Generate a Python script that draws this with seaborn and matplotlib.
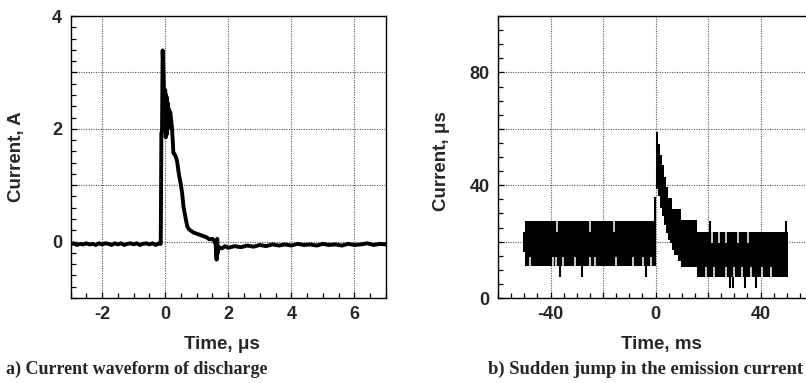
import numpy as np
import pandas as pd
import matplotlib
matplotlib.use('Agg')
import matplotlib.pyplot as plt
import seaborn as sns
from matplotlib.ticker import MultipleLocator, FixedLocator, FixedFormatter

# panel a: discharge current waveform (time in us, current in A)
t_a = [-3.0, -2.9, -2.8, -2.7, -2.6, -2.5, -2.4, -2.3, -2.2, -2.1, -2.0, -1.9, -1.8, -1.7,
       -1.6, -1.5, -1.4, -1.3, -1.2, -1.1, -1.0, -0.9, -0.8, -0.7, -0.6, -0.5, -0.4, -0.3,
       -0.2, -0.14, -0.12, -0.1, -0.08, -0.06, -0.04, -0.02, 0.0, 0.02, 0.03, 0.05, 0.06,
       0.08, 0.09, 0.11, 0.12, 0.14, 0.16, 0.18, 0.21, 0.24, 0.26, 0.3, 0.34, 0.38, 0.42,
       0.46, 0.5, 0.54, 0.58, 0.62, 0.66, 0.7, 0.75, 0.8, 0.9, 1.0, 1.1, 1.2, 1.3, 1.4,
       1.5, 1.56, 1.6, 1.63, 1.65, 1.67, 1.7, 1.8, 1.9, 2.0, 2.2, 2.4, 2.6, 2.8, 3.0, 3.2,
       3.4, 3.6, 3.8, 4.0, 4.2, 4.4, 4.6, 4.8, 5.0, 5.2, 5.4, 5.6, 5.8, 6.0, 6.2, 6.4, 6.6,
       6.8, 7.0]
i_a = [-0.05, -0.03, -0.06, -0.04, -0.05, -0.03, -0.05, -0.04, -0.06, -0.03, -0.05, -0.03,
       -0.04, -0.06, -0.03, -0.05, -0.03, -0.06, -0.04, -0.03, -0.05, -0.03, -0.06, -0.04,
       -0.03, -0.05, -0.03, -0.06, -0.03, -0.04, 1.93, 1.95, 3.39, 3.1, 2.7, 2.0, 2.69,
       1.85, 2.6, 1.9, 2.55, 2.0, 2.45, 2.05, 2.35, 2.1, 2.3, 2.2, 2.05, 1.8, 1.57, 1.55,
       1.5, 1.42, 1.25, 1.12, 1.0, 0.85, 0.62, 0.5, 0.38, 0.27, 0.22, 0.2, 0.16, 0.14,
       0.12, 0.1, 0.08, 0.04, 0.05, 0.0, -0.05, -0.32, 0.05, -0.2, -0.1, -0.12, -0.08,
       -0.11, -0.08, -0.1, -0.07, -0.09, -0.06, -0.08, -0.05, -0.07, -0.05, -0.07, -0.04,
       -0.06, -0.05, -0.07, -0.04, -0.06, -0.05, -0.07, -0.04, -0.06, -0.05, -0.03, -0.06,
       -0.04, -0.05]

# panel b: emission current envelope (time in ms), drawn as a step band
env_t = [-50.5, -49.8, -0.5, 0.0, 0.9, 1.8, 2.5, 3.4, 4.1, 4.7, 5.4, 6.2, 7.2, 8.5,
         9.8, 15.9, 50.3]
env_lo = [16.4, 11.3, 11.3, 38.5, 36.0, 32.0, 29.0, 26.0, 23.0, 20.5, 19.4, 17.0, 15.2,
          13.0, 11.1, 7.5, 7.5]
env_hi = [23.5, 27.4, 35.9, 58.9, 54.7, 50.6, 47.0, 43.0, 39.4, 35.3, 35.3, 31.7, 31.7,
          31.7, 27.6, 23.5, 23.5]

# single samples sticking out of the band
spike_t = [-36.2, -28.1, -3.6, 20.7, 28.2, 29.4, 33.9, 38.1, 49.8]
spike_lo = [7.3, 7.3, 7.3, 23.5, 3.5, 3.5, 3.5, 3.5, 23.5]
spike_hi = [11.3, 11.3, 11.3, 27.4, 7.5, 7.5, 7.5, 7.5, 27.4]

# white gaps where the signal stayed inside the band
gap_t = [-48.0, -39.1, -37.8, -35.3, -30.5, -25.1, -23.2, -15.0, -8.6, -4.8, -1.6,
         -37.5, -25.0, -15.7,
         19.3, 22.3, 27.0, 30.0, 33.0, 36.5, 40.5, 44.0,
         21.7, 24.2, 26.7, 31.3, 35.2]
gap_lo = [11.3] * 11 + [23.5] * 3 + [7.5] * 8 + [19.4] * 5
gap_hi = [14.6] * 11 + [27.4] * 3 + [11.1] * 8 + [23.5] * 5

df_a = pd.DataFrame({'t': t_a, 'i': i_a})

sns.set_theme(style='ticks')
plt.rcParams['font.family'] = ['Liberation Sans', 'DejaVu Sans']
plt.rcParams['font.weight'] = 'bold'
plt.rcParams['axes.unicode_minus'] = False

fig = plt.figure(figsize=(8.06, 3.83), dpi=100)
ax1 = fig.add_axes([0.0875, 0.2219, 0.3914, 0.7363])
ax2 = fig.add_axes([0.6179, 0.2219, 0.3908, 0.7363])

grid_kw = dict(color='#555555', linestyle=(0, (1, 1.2)), linewidth=0.8)

# ---- panel a
sns.lineplot(data=df_a, x='t', y='i', sort=False, estimator=None, color='black',
             linewidth=2.8, ax=ax1, zorder=3)
ax1.set_xlim(-3, 7)
ax1.set_ylim(-1, 4)
ax1.xaxis.set_major_locator(FixedLocator([-2, 0, 2, 4, 6]))
ax1.xaxis.set_minor_locator(MultipleLocator(0.5))
ax1.yaxis.set_major_locator(FixedLocator([-1, 0, 1, 2, 3, 4]))
ax1.yaxis.set_major_formatter(FixedFormatter(['', '0', '', '2', '', '4']))
ax1.yaxis.set_minor_locator(MultipleLocator(0.2))
ax1.set_xlabel('Time, μs', fontsize=13.5, fontweight='bold')
ax1.set_ylabel('Current, A', fontsize=13.5, fontweight='bold')
ax1.xaxis.set_label_coords(0.48, -0.133)
ax1.yaxis.set_label_coords(-0.144, 0.5)

# ---- panel b
ax2.fill_between(env_t, env_lo, env_hi, step='post', color='black', linewidth=0, zorder=3)
ax2.vlines(spike_t, spike_lo, spike_hi, color='black', linewidth=1.5, zorder=3)
ax2.vlines(gap_t, gap_lo, gap_hi, color='white', linewidth=1.1, zorder=4)
ax2.set_xlim(-60, 60)
ax2.set_ylim(0, 100)
ax2.xaxis.set_major_locator(FixedLocator([-60, -40, -20, 0, 20, 40, 60]))
ax2.xaxis.set_major_formatter(FixedFormatter(['', '-40', '', '0', '', '40', '']))
ax2.xaxis.set_minor_locator(MultipleLocator(5))
ax2.yaxis.set_major_locator(FixedLocator([0, 20, 40, 60, 80, 100]))
ax2.yaxis.set_major_formatter(FixedFormatter(['0', '', '40', '', '80', '']))
ax2.yaxis.set_minor_locator(MultipleLocator(5))
ax2.set_xlabel('Time, ms', fontsize=13.5, fontweight='bold')
ax2.set_ylabel('Current, μs', fontsize=13.5, fontweight='bold')
ax2.xaxis.set_label_coords(0.52, -0.133)
ax2.yaxis.set_label_coords(-0.152, 0.485)

for ax in (ax1, ax2):
    ax.grid(True, which='major', **grid_kw)
    ax.set_axisbelow(True)
    ax.tick_params(which='both', direction='in', top=False, right=False,
                   labelsize=13, pad=6, color='black', width=0.9)
    ax.tick_params(which='major', length=4)
    ax.tick_params(which='minor', length=3.5)
    for lab in ax.get_xticklabels() + ax.get_yticklabels():
        lab.set_fontweight('bold')
    for sp in ax.spines.values():
        sp.set_visible(True)
        sp.set_color('black')
        sp.set_linewidth(1.0)
    ax.set_facecolor('white')

fig.text(0.007, 0.036, 'a) Current waveform of discharge', family='Liberation Serif',
         fontweight='bold', fontsize=13, ha='left', va='center')
fig.text(0.605, 0.036, 'b) Sudden jump in the emission current', family='Liberation Serif',
         fontweight='bold', fontsize=13.4, ha='left', va='center')

fig.savefig('out.png', dpi=100, facecolor='white')
